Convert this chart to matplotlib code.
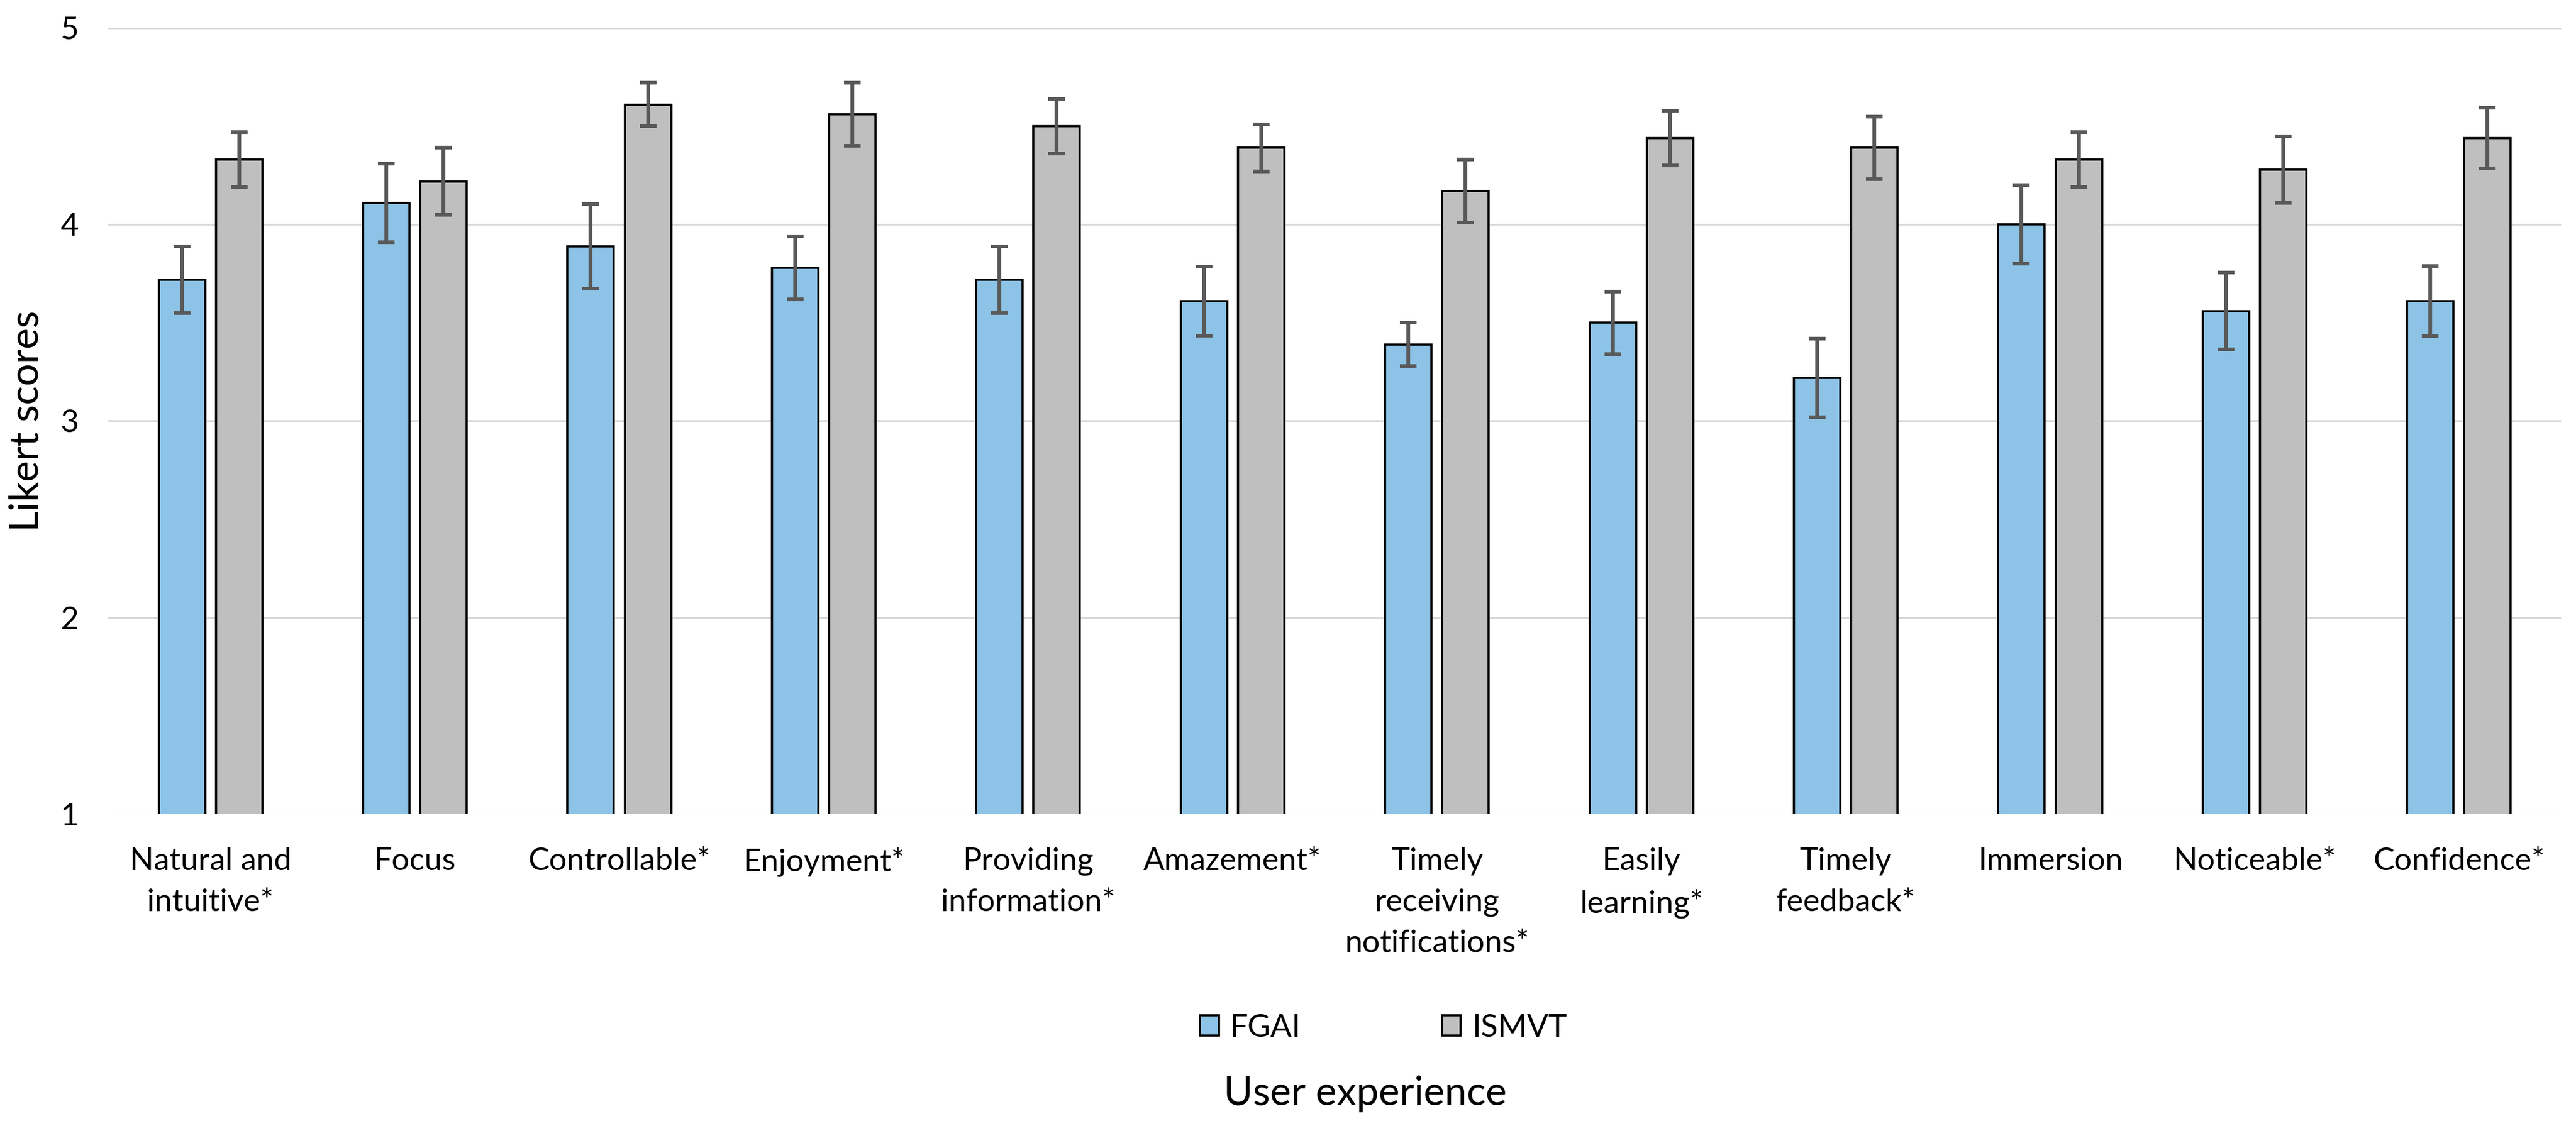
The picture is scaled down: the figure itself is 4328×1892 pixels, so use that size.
import numpy as np
import matplotlib
matplotlib.use('Agg')
import matplotlib.pyplot as plt

categories = ['Natural and\nintuitive*', 'Focus', 'Controllable*', 'Enjoyment*',
              'Providing\ninformation*', 'Amazement*', 'Timely\nreceiving\nnotifications*',
              'Easily\nlearning*', 'Timely\nfeedback*', 'Immersion', 'Noticeable*', 'Confidence*']
fgai_mean = [3.72, 4.11, 3.89, 3.78, 3.72, 3.61, 3.39, 3.50, 3.22, 4.00, 3.56, 3.61]
fgai_err = [0.17, 0.20, 0.215, 0.16, 0.17, 0.175, 0.11, 0.16, 0.20, 0.20, 0.195, 0.18]
ismvt_mean = [4.33, 4.22, 4.61, 4.56, 4.50, 4.39, 4.17, 4.44, 4.39, 4.33, 4.28, 4.44]
ismvt_err = [0.14, 0.17, 0.11, 0.16, 0.14, 0.12, 0.16, 0.14, 0.16, 0.14, 0.17, 0.155]

plt.rcParams['font.family'] = ['Lato', 'DejaVu Sans']

fig = plt.figure(figsize=(21.64, 9.46), dpi=200)
ax = fig.add_axes([0.04205, 0.27696, 0.95217, 0.6982])

index = np.arange(len(categories))
b_width = 0.227
off = 0.14
err_kw = dict(ecolor='#595959', elinewidth=2.3, capsize=5, capthick=2.2)
ax.bar(index - off, fgai_mean, b_width, bottom=0, color='#8DC3E6', edgecolor='black',
       linewidth=1.3, yerr=fgai_err, error_kw=err_kw, label='FGAI', zorder=3)
ax.bar(index + off, ismvt_mean, b_width, bottom=0, color='#BFBFBF', edgecolor='black',
       linewidth=1.3, yerr=ismvt_err, error_kw=err_kw, label='ISMVT', zorder=3)

ax.set_xlim(-0.5, len(categories) - 0.5)
ax.set_ylim(1, 5)
ax.set_yticks([1, 2, 3, 4, 5])
ax.yaxis.grid(True, color='#D9D9D9', linewidth=1.1, zorder=0)
ax.set_axisbelow(True)
for s in ax.spines.values():
    s.set_visible(False)
ax.set_xticks(index)
ax.set_xticklabels(categories, fontsize=19, linespacing=1.58, va='top')
ax.tick_params(axis='x', length=0, pad=20)
ax.tick_params(axis='y', length=0, pad=18, labelsize=19)
ax.set_ylabel('Likert scores', fontsize=24, va='center')
ax.yaxis.set_label_coords(-0.0332, 0.5)

leg = fig.legend(loc='center', bbox_to_anchor=(0.537, 0.0872), ncol=2, frameon=False,
                 fontsize=19, handlelength=0.6, handleheight=0.6, handletextpad=0.35,
                 columnspacing=4.5)
fig.text(0.53, 0.0285, 'User experience', ha='center', va='center', fontsize=24)

fig.savefig('out.png', dpi=200)
